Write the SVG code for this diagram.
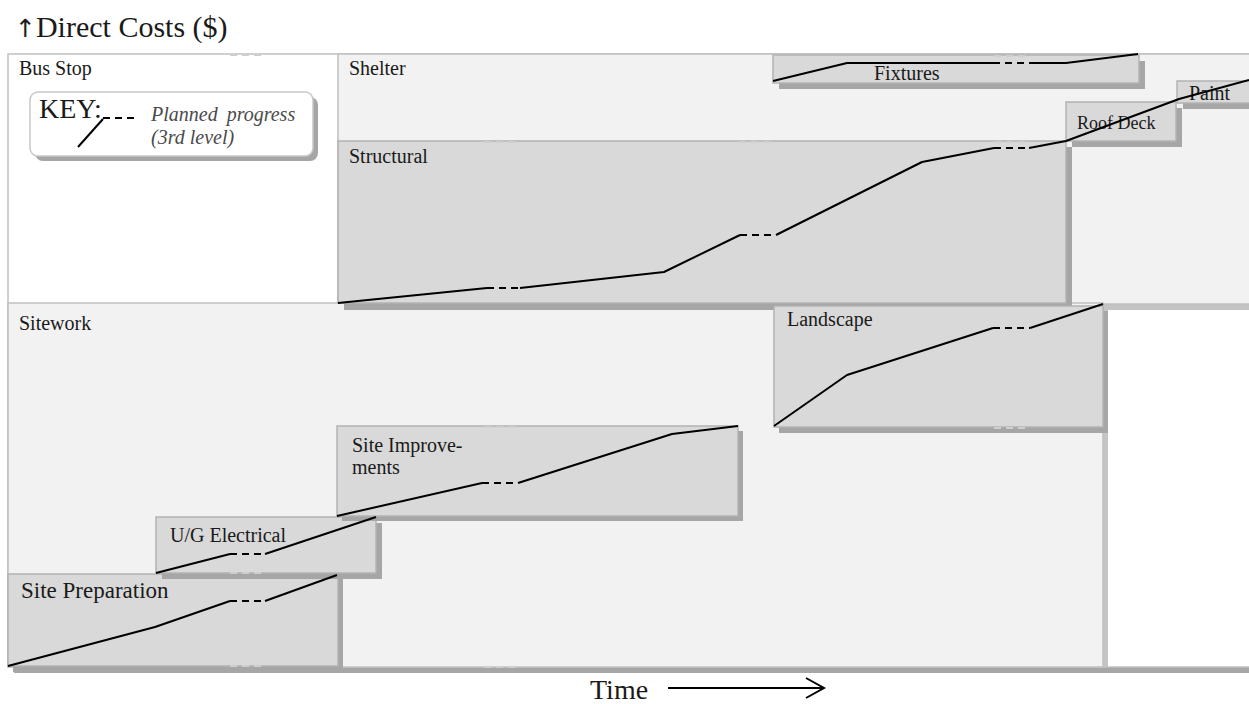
<svg xmlns="http://www.w3.org/2000/svg" width="1249" height="704" viewBox="0 0 1249 704">
  <style>
    .frame { fill: #ffffff; stroke: #c0c0c0; stroke-width: 1.5; }
    .zone { fill: #f2f2f2; stroke: #c0c0c0; stroke-width: 1.5; }
    .task { fill: #d9d9d9; stroke: #b3b3b3; stroke-width: 1.5; }
    .shadow { fill: #a6a6a6; }
    .shadow-lt { fill: #c4c4c4; }
    .lbl { font-family: "Liberation Serif", "Times New Roman", serif; font-size: 20px; fill: #1a1a1a; }
    .curve { fill: none; stroke: #000000; stroke-width: 2; stroke-linejoin: round; }
    .plan { stroke-dasharray: 7 5; }
    .ghost { fill: none; stroke: #cfcfcf; stroke-width: 2; stroke-dasharray: 7 5; }
  </style>

  <!-- axis title -->
  <text class="lbl" x="15" y="37" style="font-size:30px"><tspan style="font-family:'DejaVu Sans',sans-serif;font-size:25px">↑</tspan>Direct Costs ($)</text>

  <!-- outer frame: Bus Stop -->
  <g id="bus-stop">
    <rect class="shadow" x="14" y="667" width="1235" height="6"/>
    <rect class="frame" x="8" y="54" width="1250" height="613"/>
    <text class="lbl" x="19" y="75">Bus Stop</text>
  </g>

  <!-- key -->
  <g id="key">
    <rect class="shadow" x="35" y="97" width="283" height="64" rx="8"/>
    <rect x="30" y="92" width="283" height="64" rx="8" fill="#ffffff" stroke="#c8c8c8" stroke-width="1.5"/>
    <text class="lbl" x="39" y="118" style="font-size:28px">KEY:</text>
    <path class="curve" d="M78,147 L103,119"/>
    <path class="curve plan" d="M103,118 L138,118"/>
    <text class="lbl" x="151" y="121" style="font-style:italic;font-size:20px;fill:#4a4a4a;word-spacing:4px">Planned progress</text>
    <text class="lbl" x="151" y="144" style="font-style:italic;font-size:20px;fill:#4a4a4a">(3rd level)</text>
  </g>

  <!-- Shelter zone -->
  <g id="shelter">
    <rect class="shadow-lt" x="343" y="298" width="906" height="12"/>
    <rect class="zone" x="338" y="54" width="920" height="250"/>
    <text class="lbl" x="349" y="75">Shelter</text>
  </g>

  <!-- Sitework zone -->
  <g id="sitework">
    <rect class="shadow-lt" x="1096" y="309" width="12" height="358"/>
    <rect class="zone" x="8" y="303" width="1095" height="364"/>
    <text class="lbl" x="19" y="330">Sitework</text>
  </g>

  <g id="structural">
    <rect class="shadow" x="344" y="147" width="728" height="163"/>
    <rect class="task" x="338" y="141" width="728" height="162"/>
    <text class="lbl" x="349" y="163">Structural</text>
  </g>

  <g id="fixtures">
    <rect class="shadow" x="779" y="61" width="366" height="28"/>
    <rect class="task" x="773" y="55" width="366" height="28"/>
    <text class="lbl" x="874" y="80">Fixtures</text>
  </g>

  <g id="roof-deck">
    <rect class="shadow" x="1072" y="108" width="110" height="39"/>
    <rect class="task" x="1066" y="102" width="110" height="39"/>
    <text class="lbl" x="1077" y="129" style="font-size:18px">Roof Deck</text>
  </g>

  <g id="paint">
    <rect class="shadow" x="1183" y="87" width="80" height="22"/>
    <rect class="task" x="1177" y="81" width="80" height="22"/>
    <text class="lbl" x="1189" y="100">Paint</text>
  </g>

  <g id="site-preparation">
    <rect class="shadow" x="13" y="579" width="330" height="93"/>
    <rect class="task" x="8" y="574" width="330" height="92"/>
    <text class="lbl" x="21" y="598" style="font-size:23px">Site Preparation</text>
  </g>

  <g id="ug-electrical">
    <rect class="shadow" x="162" y="523" width="220" height="56"/>
    <rect class="task" x="156" y="517" width="220" height="56"/>
    <text class="lbl" x="170" y="542">U/G Electrical</text>
  </g>

  <g id="site-improvements">
    <rect class="shadow" x="342" y="431" width="401" height="90"/>
    <rect class="task" x="337" y="426" width="401" height="90"/>
    <text class="lbl" x="352" y="452">Site Improve-</text>
    <text class="lbl" x="352" y="474">ments</text>
  </g>

  <g id="landscape">
    <rect class="shadow" x="779" y="311" width="329" height="122"/>
    <rect class="task" x="774" y="306" width="329" height="121"/>
    <text class="lbl" x="787" y="326">Landscape</text>
  </g>

  <!-- faint planned-progress marks along box edges -->
  <g id="edge-marks">
    <path class="ghost" d="M230,55 H264"/>
    <path class="ghost" d="M484,142 H518"/>
    <path class="ghost" d="M739,142 H773"/>
    <path class="ghost" d="M994,142 H1028"/>
    <path class="ghost" d="M994,56 H1028"/>
    <path class="ghost" d="M484,427 H518"/>
    <path class="ghost" d="M484,667 H518"/>
    <path class="ghost" d="M230,573 H264"/>
    <path class="ghost" d="M230,666 H264"/>
    <path class="ghost" d="M994,428 H1028"/>
  </g>

  <!-- cost curves -->
  <g id="curves">
    <!-- Structural -> Roof Deck -> Paint -->
    <path class="curve" d="M338,303 L487,288"/>
    <path class="curve plan" d="M487,288 L520,288"/>
    <path class="curve" d="M520,288 L664,272 L740,235"/>
    <path class="curve plan" d="M740,235 L776,235"/>
    <path class="curve" d="M776,235 L812,217 L922,162 L994,148"/>
    <path class="curve plan" d="M994,148 L1029,148"/>
    <path class="curve" d="M1029,148 L1066,141 L1179,99 L1249,80"/>
    <!-- Fixtures -->
    <path class="curve" d="M773,81 L847,63 L993,63"/>
    <path class="curve plan" d="M993,63 L1029,63"/>
    <path class="curve" d="M1029,63 L1066,63 L1138,54"/>
    <!-- Landscape -->
    <path class="curve" d="M774,426 L847,375 L993,328"/>
    <path class="curve plan" d="M993,328 L1030,328"/>
    <path class="curve" d="M1030,328 L1103,304"/>
    <!-- Site Improvements -->
    <path class="curve" d="M337,516 L482,483"/>
    <path class="curve plan" d="M482,483 L518,483"/>
    <path class="curve" d="M518,483 L672,434 L738,426"/>
    <!-- U/G Electrical -->
    <path class="curve" d="M156,573 L230,554"/>
    <path class="curve plan" d="M230,554 L265,554"/>
    <path class="curve" d="M265,554 L376,517"/>
    <!-- Site Preparation -->
    <path class="curve" d="M8,666 L155,627 L230,601"/>
    <path class="curve plan" d="M230,601 L265,601"/>
    <path class="curve" d="M265,601 L337,575"/>
  </g>

  <!-- time axis -->
  <g id="time-axis">
    <text class="lbl" x="590" y="699" style="font-size:28px">Time</text>
    <path d="M668,688 H824" fill="none" stroke="#000" stroke-width="2"/>
    <path d="M806,678 L824,688 L806,698" fill="none" stroke="#000" stroke-width="2"/>
  </g>
</svg>
